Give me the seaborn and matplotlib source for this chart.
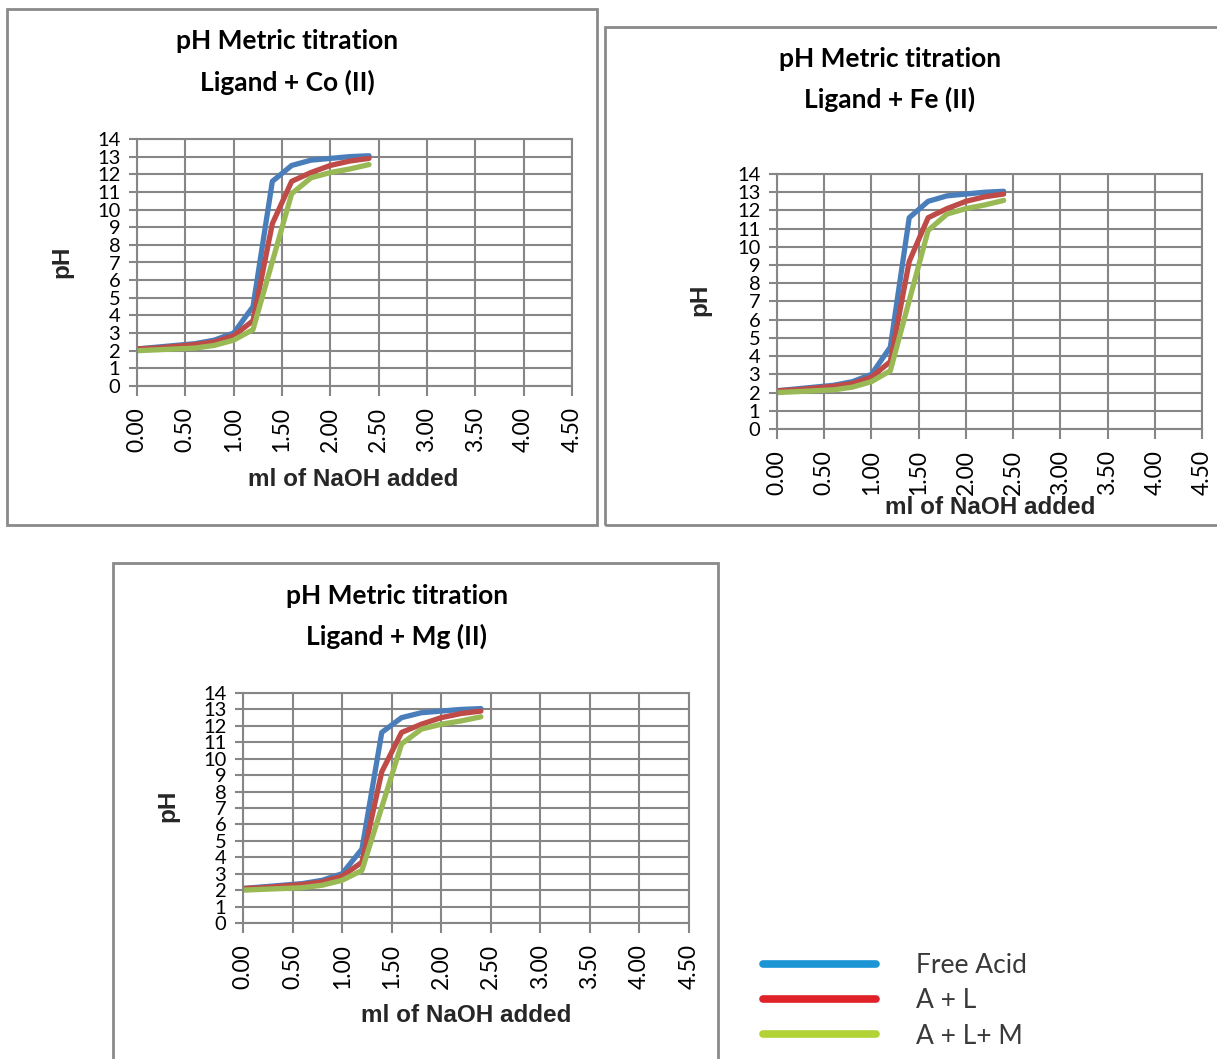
import matplotlib
matplotlib.use("Agg")
import matplotlib.pyplot as plt
import seaborn as sns
import pandas as pd
import numpy as np
from matplotlib.lines import Line2D
from matplotlib.patches import Rectangle

# ---- data ----
ml_naoh = [0.0, 0.2, 0.4, 0.6, 0.8, 1.0, 1.2, 1.4, 1.6, 1.8, 2.0, 2.2, 2.4]
free_acid = [2.1, 2.2, 2.3, 2.4, 2.6, 3.0, 4.5, 11.6, 12.5, 12.8, 12.9, 13.0, 13.05]
acid_ligand = [2.1, 2.15, 2.25, 2.35, 2.5, 2.85, 3.7, 9.2, 11.6, 12.1, 12.5, 12.75, 12.9]
acid_ligand_metal = [2.0, 2.05, 2.1, 2.15, 2.3, 2.6, 3.2, 7.05, 10.9, 11.8, 12.1, 12.3, 12.55]
series_names = ["Free Acid", "A + L", "A + L+ M"]
metal_titles = ["Ligand + Co (II)", "Ligand + Fe (II)", "Ligand + Mg (II)"]
x_ticks = [0.0, 0.5, 1.0, 1.5, 2.0, 2.5, 3.0, 3.5, 4.0, 4.5]
y_ticks = list(range(0, 15))

line_colors = ["#4a7ebb", "#be4b48", "#98b954"]
legend_colors = ["#1b95d4", "#e02127", "#b2d235"]

df = pd.DataFrame({
    "ml": ml_naoh * 3,
    "pH": free_acid + acid_ligand + acid_ligand_metal,
    "series": [series_names[0]] * len(ml_naoh) + [series_names[1]] * len(ml_naoh)
              + [series_names[2]] * len(ml_naoh),
})

sns.set_theme(style="white")
plt.rcParams["font.family"] = ["Lato", "DejaVu Sans"]

W, H = 1217, 1059
fig = plt.figure(figsize=(W / 100, H / 100), dpi=100)
fig.patch.set_facecolor("white")


def fx(px):
    return px / W


def fy(py):
    return 1 - py / H


layout = [
    dict(ax=(137, 572, 139, 386), t=(287, 41, 82), yl=(62, 262), xl=(353, 480), box=(7, 9, 597, 525)),
    dict(ax=(777, 1202, 174, 429), t=(890, 59, 99), yl=(700, 300), xl=(990, 508), box=(605, 27, 1225, 525)),
    dict(ax=(243, 689, 693, 923), t=(397, 596, 636), yl=(168, 806), xl=(466, 1016), box=(113, 563, 718, 1070)),
]

GRID = "#868686"
LABEL_FONT = ["Liberation Sans", "DejaVu Sans"]

for title2, L in zip(metal_titles, layout):
    bx0, by0, bx1, by1 = L["box"]
    fig.add_artist(Rectangle((fx(bx0), fy(by1)), (bx1 - bx0) / W, (by1 - by0) / H,
                             transform=fig.transFigure, fill=False, ec="#8a8a8a", lw=2.0))
    x0, x1, y0, y1 = L["ax"]
    ax = fig.add_axes([fx(x0), fy(y1), (x1 - x0) / W, (y1 - y0) / H])
    sns.lineplot(data=df, x="ml", y="pH", hue="series", hue_order=series_names,
                 palette=line_colors, linewidth=3.8, legend=False, sort=False, ax=ax)
    for ln in ax.lines:
        ln.set_solid_joinstyle("round")
        ln.set_solid_capstyle("round")
    ax.set_xlim(0, 4.5)
    ax.set_ylim(0, 14)
    ax.set_xticks(x_ticks)
    ax.set_xticklabels([f"{v:.2f}" for v in x_ticks], rotation=90, fontsize=16.5)
    ax.set_yticks(y_ticks)
    ax.set_yticklabels([str(v) for v in y_ticks], fontsize=14.5)
    ax.grid(True, color=GRID, lw=1.5)
    ax.set_axisbelow(True)
    for s in ax.spines.values():
        s.set_color(GRID)
        s.set_linewidth(1.5)
    ax.tick_params(axis="both", direction="out", length=6, width=1.5, color=GRID,
                   labelcolor="black", bottom=True, left=True)
    ax.tick_params(axis="x", length=7, pad=8)
    ax.tick_params(axis="y", pad=6)
    ax.set_xlabel("")
    ax.set_ylabel("")

    tx, ty1, ty2 = L["t"]
    fig.text(fx(tx), fy(ty1), "pH Metric titration", ha="center", va="center",
             fontsize=19, fontweight="bold", color="black")
    fig.text(fx(tx), fy(ty2), title2, ha="center", va="center",
             fontsize=19, fontweight="bold", color="black")
    fig.text(fx(L["yl"][0]), fy(L["yl"][1]), "pH", ha="center", va="center", rotation=90,
             fontsize=17.5, fontweight="bold", family=LABEL_FONT)
    fig.text(fx(L["xl"][0]), fy(L["xl"][1]), "ml of NaOH added", ha="center", va="center",
             fontsize=17.5, fontweight="bold", family=LABEL_FONT)

handles = [Line2D([], [], color=c, lw=5.5, solid_capstyle="round") for c in legend_colors]
leg = fig.legend(handles, series_names, loc="center left",
                 bbox_to_anchor=(fx(739), fy(1001)), frameon=False,
                 handlelength=4.3, handletextpad=1.5, labelspacing=0.38,
                 prop={"family": ["Lato", "DejaVu Sans"], "size": 19})
for t in leg.get_texts():
    t.set_color("#3a3a3a")

fig.savefig("out.png", dpi=100, facecolor="white")
